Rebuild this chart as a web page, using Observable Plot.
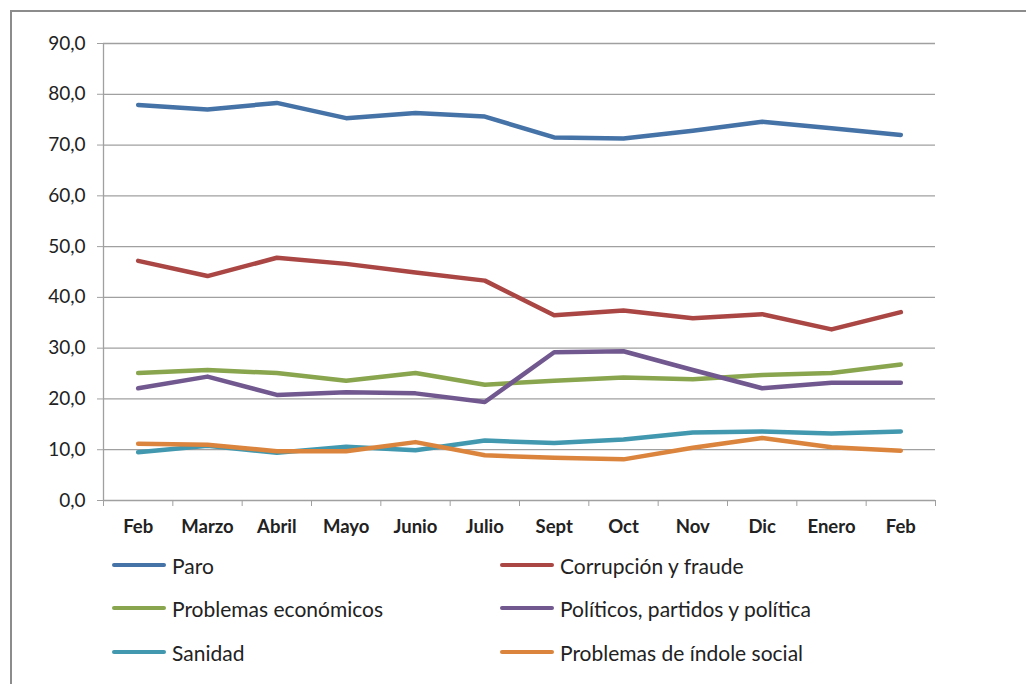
<!DOCTYPE html>
<html>
<head>
<meta charset="utf-8">
<script src="https://cdn.jsdelivr.net/npm/d3@7"></script>
<script src="https://cdn.jsdelivr.net/npm/@observablehq/plot@0.6"></script>
<style>
  html, body { margin: 0; padding: 0; background: #fff; }
  body { width: 1026px; height: 684px; position: relative; overflow: hidden; font-family: Lato, "Noto Sans", sans-serif; }
  #frame { position: absolute; left: 10px; top: 10px; width: 1040px; height: 700px; border: 2px solid #8c8c8c; box-sizing: border-box; }
  #chart { position: absolute; left: 0; top: 0; }
  .leg { position: absolute; font-size: 21px; color: #222; display: flex; align-items: center; white-space: nowrap; }
  .leg .sw { display: inline-block; width: 54px; height: 4.5px; border-radius: 2px; margin-right: 6px; }
</style>
</head>
<body>
<div id="frame"></div>
<div id="chart"></div>
<div id="legend"></div>
<script>
const months = ["Feb", "Marzo", "Abril", "Mayo", "Junio", "Julio", "Sept", "Oct", "Nov", "Dic", "Enero", "Feb"];
const seriesNames = ["Paro", "Corrupción y fraude", "Problemas económicos", "Políticos, partidos y política", "Sanidad", "Problemas de índole social"];
const colors = ["#4572a7", "#aa4643", "#89a54e", "#71588f", "#4198af", "#db843d"];
const paro        = [77.9, 77.0, 78.3, 75.3, 76.3, 75.6, 71.5, 71.3, 72.8, 74.6, 73.3, 72.0];
const corrupcion  = [47.2, 44.2, 47.8, 46.6, 44.9, 43.3, 36.5, 37.4, 35.9, 36.7, 33.7, 37.1];
const economicos  = [25.1, 25.7, 25.1, 23.6, 25.1, 22.8, 23.6, 24.2, 23.9, 24.7, 25.1, 26.8];
const politicos   = [22.1, 24.4, 20.8, 21.3, 21.1, 19.4, 29.2, 29.4, 25.7, 22.1, 23.2, 23.2];
const sanidad     = [9.5, 10.8, 9.4, 10.6, 9.9, 11.8, 11.3, 12.0, 13.4, 13.6, 13.2, 13.6];
const social      = [11.2, 11.0, 9.7, 9.7, 11.5, 8.9, 8.4, 8.1, 10.4, 12.3, 10.5, 9.8];
const yTicks = [0, 10, 20, 30, 40, 50, 60, 70, 80, 90];

const allSeries = [paro, corrupcion, economicos, politicos, sanidad, social];
const data = [];
allSeries.forEach((vals, s) => vals.forEach((v, i) => data.push({serie: seriesNames[s], i, v})));
const idx = months.map((_, i) => i);
const bounds = [-0.5, ...idx.map(i => i + 0.5)];
const fmt = d => d.toFixed(1).replace(".", ",");
const grey = "#a0a0a0";

const chart = Plot.plot({
  width: 1026,
  height: 545,
  marginTop: 43,
  marginBottom: 45,
  marginLeft: 103,
  marginRight: 91,
  style: {fontFamily: "Lato, 'Noto Sans', sans-serif", background: "transparent"},
  x: {type: "linear", domain: [-0.5, 11.5]},
  y: {domain: [0, 90]},
  color: {domain: seriesNames, range: colors},
  marks: [
    Plot.gridY(yTicks, {stroke: grey, strokeOpacity: 1, strokeWidth: 1.3}),
    Plot.ruleX([-0.5], {stroke: grey, strokeWidth: 1.3}),
    Plot.axisY({ticks: yTicks, tickFormat: fmt, tickSize: 6, tickPadding: 12, stroke: grey, fontSize: 19, fill: "#222", label: null}),
    Plot.axisX({ticks: bounds, tickFormat: () => "", tickSize: 6, stroke: grey, label: null}),
    Plot.axisX({ticks: idx, tickFormat: i => months[i], tickSize: 0, tickPadding: 19, fontSize: 18.5, fontWeight: "bold", fill: "#222", label: null}),
    Plot.line(data, {x: "i", y: "v", z: "serie", stroke: "serie", strokeWidth: 4.5, strokeLinecap: "round", strokeLinejoin: "round"})
  ]
});
document.getElementById("chart").appendChild(chart);

const legend = document.getElementById("legend");
const legPos = [[112, 565], [500, 565], [112, 608], [500, 608], [112, 652], [500, 652]];
seriesNames.forEach((name, k) => {
  const d = document.createElement("div");
  d.className = "leg";
  d.style.left = legPos[k][0] + "px";
  d.style.top = (legPos[k][1] - 13) + "px";
  d.style.height = "26px";
  d.innerHTML = `<span class="sw" style="background:${colors[k]}"></span><span>${name}</span>`;
  legend.appendChild(d);
});
</script>
</body>
</html>
